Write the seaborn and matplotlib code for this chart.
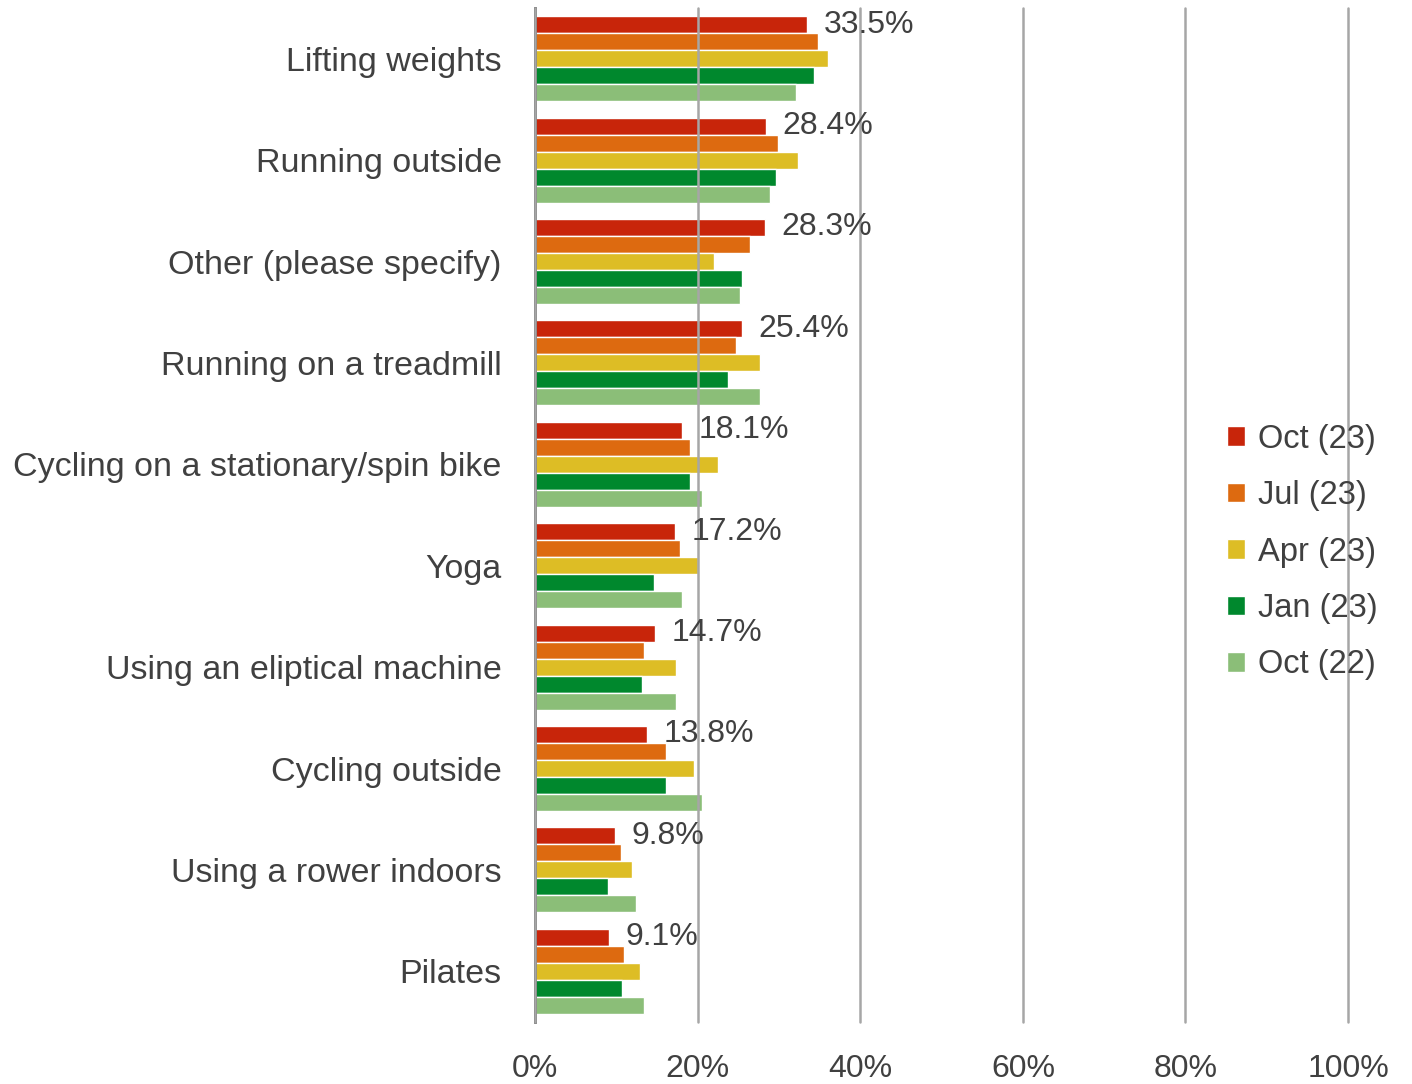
import seaborn as sns
import matplotlib.pyplot as plt
import pandas as pd

# Datos (% de encuestados)
activities = ["Lifting weights", "Running outside", "Other (please specify)",
              "Running on a treadmill", "Cycling on a stationary/spin bike", "Yoga",
              "Using an eliptical machine", "Cycling outside", "Using a rower indoors",
              "Pilates"]
periods = ["Oct (23)", "Jul (23)", "Apr (23)", "Jan (23)", "Oct (22)"]

oct23 = [33.5, 28.4, 28.3, 25.4, 18.1, 17.2, 14.7, 13.8, 9.8, 9.1]
jul23 = [34.8, 29.9, 26.4, 24.7, 19.1, 17.8, 13.4, 16.1, 10.5, 10.9]
apr23 = [36.0, 32.3, 22.0, 27.7, 22.5, 20.0, 17.3, 19.6, 11.9, 12.9]
jan23 = [34.3, 29.6, 25.5, 23.7, 19.1, 14.6, 13.2, 16.1, 9.0, 10.7]
oct22 = [32.1, 28.9, 25.2, 27.7, 20.5, 18.1, 17.3, 20.5, 12.4, 13.4]

colors = ["#C8250A", "#DD6A10", "#DDBD25", "#00882D", "#8BBE78"]

# Pasar a formato largo
rows = []
for period, vals in zip(periods, [oct23, jul23, apr23, jan23, oct22]):
    for act, v in zip(activities, vals):
        rows.append({"Actividad": act, "Periodo": period, "Valor": v})
df = pd.DataFrame(rows)

sns.set_style("white")
plt.rcParams["font.family"] = ["Liberation Sans", "DejaVu Sans"]
txt = "#404040"

fig = plt.figure(figsize=(14.12, 10.84), dpi=100)
ax = fig.add_axes([0.379, 0.0572, 0.5757, 0.9354])

sns.barplot(data=df, x="Valor", y="Actividad", hue="Periodo", hue_order=periods,
            palette=colors, orient="h", width=0.84, saturation=1, ax=ax)

# Etiquetas solo para Oct (23)
ax.bar_label(ax.containers[0], labels=[f"{v}%" for v in oct23], padding=12,
             fontsize=23, color=txt)

ax.set_xlim(0, 100)
ax.set_ylim(9.5, -0.5)
ax.set_xticks([0, 20, 40, 60, 80, 100])
ax.set_xticklabels([f"{t}%" for t in [0, 20, 40, 60, 80, 100]])
ax.set_xlabel("")
ax.set_ylabel("")
ax.tick_params(axis="both", length=0, colors=txt)
ax.tick_params(axis="y", pad=24, labelsize=24.5)
ax.tick_params(axis="x", pad=23, labelsize=23)

ax.set_axisbelow(False)
ax.xaxis.grid(True, color="#a6a6a6", linewidth=1.8)
ax.yaxis.grid(False)
for gl in ax.get_xgridlines():
    gl.set_clip_on(False)
for s in ["top", "right", "bottom"]:
    ax.spines[s].set_visible(False)
ax.spines["left"].set_color("#333333")
ax.spines["left"].set_linewidth(1.8)

ax.legend(loc="center left", bbox_to_anchor=(0.815, 0.4635), frameon=False,
          fontsize=23.5, handlelength=0.55, handleheight=0.55, handletextpad=0.4,
          labelspacing=0.78, labelcolor=txt)

fig.savefig("out.png", dpi=100)
